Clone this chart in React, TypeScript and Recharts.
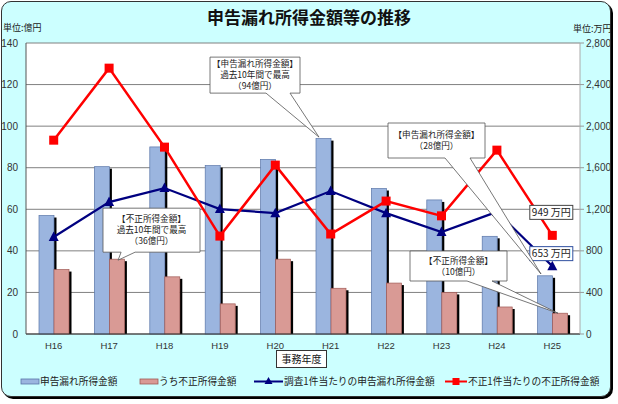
import React from 'react';
import {
  ComposedChart,
  Bar,
  Line,
  XAxis,
  YAxis,
  CartesianGrid,
  ReferenceDot,
  LabelList,
} from 'recharts';

const years = ['H16', 'H17', 'H18', 'H19', 'H20', 'H21', 'H22', 'H23', 'H24', 'H25'];
const undeclared = [57, 80.5, 90, 81, 84, 94, 70, 64.5, 47, 28];
const fraud = [31, 36, 27.5, 14.5, 36, 22, 24.5, 20, 13, 10];
const perCaseUndeclared = [933, 1269, 1404, 1202, 1163, 1375, 1163, 981, 1175, 653];
const perCaseFraud = [1865, 2558, 1798, 942, 1625, 962, 1279, 1137, 1769, 949];
const leftTicks = [0, 20, 40, 60, 80, 100, 120, 140];
const rightTicks = [0, 400, 800, 1200, 1600, 2000, 2400, 2800];

const data = years.map((year, i) => ({
  year,
  undeclared: undeclared[i],
  fraud: fraud[i],
  perU: perCaseUndeclared[i],
  perF: perCaseFraud[i],
}));

const JP = '"Noto Sans CJK JP", "Noto Sans", sans-serif';
const NUM = '"Liberation Sans", Arial, sans-serif';

const BLUE = '#9bb5df';
const BLUE_S = '#5a76a8';
const PINK = '#d99a95';
const PINK_S = '#a05a55';
const NAVY = '#000080';
const RED = '#ff0000';

const shadowBar = (fill: string, stroke: string) => (props: any) => {
  const { x, y, width, height } = props;
  if (!height || height <= 0) return <g />;
  return (
    <g>
      <rect x={x + width} y={y + 2} width={2.5} height={height - 2} fill="#000" />
      <rect x={x} y={y} width={width} height={height} fill={fill} stroke={stroke} strokeWidth={0.7} />
    </g>
  );
};

const TriDot = (props: any) => {
  const { cx, cy, index } = props;
  if (cx == null || cy == null) return <g key={index} />;
  return (
    <polygon
      key={index}
      points={`${cx},${cy - 5.5} ${cx + 5},${cy + 4} ${cx - 5},${cy + 4}`}
      fill={NAVY}
    />
  );
};

const SqDot = (props: any) => {
  const { cx, cy, index } = props;
  if (cx == null || cy == null) return <g key={index} />;
  return <rect key={index} x={cx - 4.5} y={cy - 4.5} width={9} height={9} fill={RED} />;
};

const endLabel = (dy: number, border: string) => (props: any) => {
  const { x, y, index, value } = props;
  if (index !== years.length - 1) return null;
  const cx = x - 1;
  const cy = y + dy;
  return (
    <g>
      <rect x={cx - 21.5} y={cy - 7} width={43} height={14} fill="#fff" stroke={border} strokeWidth={1} />
      <text x={cx} y={cy + 3.5} textAnchor="middle" fontSize={10} fontFamily={JP} fill="#222">
        {`${value} 万円`}
      </text>
    </g>
  );
};

type CalloutCfg = {
  box: [number, number, number, number];
  base: [number, number];
  tip: [number, number];
  lines: string[];
};

const makeCallout = (cfg: CalloutCfg) => (props: any) => {
  const { cx, cy } = props;
  if (cx == null || cy == null) return <g />;
  const [l, t, r, b] = cfg.box.map((v, i) => (i % 2 === 0 ? cx + v : cy + v));
  const b1 = cx + cfg.base[0];
  const b2 = cx + cfg.base[1];
  const tx = cx + cfg.tip[0];
  const ty = cy + cfg.tip[1];
  const d = `M${l},${t} H${r} V${b} H${b2} L${tx},${ty} L${b1},${b} H${l} Z`;
  const mid = (l + r) / 2;
  const n = cfg.lines.length;
  const lh = 11;
  const startY = (t + b) / 2 - ((n - 1) * lh) / 2 + 3;
  return (
    <g>
      <path d={d} fill="#fff" stroke="#555" strokeWidth={0.8} />
      {cfg.lines.map((s, i) => (
        <text key={i} x={mid} y={startY + i * lh} textAnchor="middle" fontSize={8.6} fontFamily={JP} fill="#222">
          {s}
        </text>
      ))}
    </g>
  );
};

const callout1 = makeCallout({
  box: [-120.7, -81.5, -30.7, -45.5],
  base: [-64.7, -40.7],
  tip: [-11.7, -1.5],
  lines: ['【申告漏れ所得金額】', '過去10年間で最高', `（${undeclared[5]}億円）`],
});
const callout2 = makeCallout({
  box: [-164.3, -152.8, -67.3, -117.8],
  base: [-107.3, -82.3],
  tip: [-11.3, -1.8],
  lines: ['【申告漏れ所得金額】', `（${undeclared[9]}億円）`],
});
const callout3 = makeCallout({
  box: [-6.1, -51, 90.9, -7],
  base: [12, 26],
  tip: [9, 1],
  lines: ['【不正所得金額】', '過去10年間で最高', `（${fraud[1]}億円）`],
});
const callout4 = makeCallout({
  box: [-142.3, -62.2, -45.3, -32.2],
  base: [-85.3, -60.3],
  tip: [5.7, 0],
  lines: ['【不正所得金額】', `（${fraud[9]}億円）`],
});

export default function App() {
  return (
    <div style={{ position: 'absolute', left: 0, top: 0, width: 618, height: 404, background: '#fff', overflow: 'hidden' }}>
      <div
        style={{
          position: 'absolute',
          left: 1,
          top: 1,
          width: 610,
          height: 396,
          background: '#ccffff',
          border: '1px solid #333',
          borderRadius: 10,
          boxShadow: '2px 2px 0 #000',
          boxSizing: 'border-box',
        }}
      />
      <div
        style={{
          position: 'absolute',
          left: 0,
          width: 618,
          top: 6,
          textAlign: 'center',
          fontFamily: JP,
          fontSize: 17,
          fontWeight: 600,
          color: '#111',
          lineHeight: '22px',
        }}
      >
        申告漏れ所得金額等の推移
      </div>
      <div style={{ position: 'absolute', left: 3, top: 22, fontFamily: JP, fontSize: 9, lineHeight: '12px', color: '#222' }}>単位:億円</div>
      <div style={{ position: 'absolute', left: 573, top: 23, fontFamily: JP, fontSize: 9, lineHeight: '12px', color: '#222' }}>単位:万円</div>

      <div style={{ position: 'absolute', left: 0, top: 0 }}>
        <ComposedChart
          width={618}
          height={404}
          data={data}
          margin={{ top: 43, right: 0, bottom: 50, left: 0 }}
          barSize={15}
          barGap={0}
        >
          <CartesianGrid vertical={false} stroke="#808080" fill="#fff" yAxisId="left" />
          <XAxis
            dataKey="year"
            height={20}
            tickLine={false}
            axisLine={{ stroke: '#333' }}
            tick={{ fontSize: 9.5, fill: '#333', fontFamily: NUM }}
            interval={0}
          />
          <YAxis
            yAxisId="left"
            width={26}
            domain={[0, 140]}
            ticks={leftTicks}
            tickLine={false}
            axisLine={{ stroke: '#555' }}
            tick={{ fontSize: 10, fill: '#333', fontFamily: NUM }}
            interval={0}
          />
          <YAxis
            yAxisId="right"
            orientation="right"
            width={38}
            domain={[0, 2800]}
            ticks={rightTicks}
            tickSize={4}
            tickLine={{ stroke: '#999' }}
            axisLine={{ stroke: '#aaa' }}
            tick={{ fontSize: 10, fill: '#333', fontFamily: NUM, textAnchor: 'start' }}
            tickFormatter={(v: number) => v.toLocaleString('en-US')}
            interval={0}
          />
          <Bar yAxisId="left" dataKey="undeclared" isAnimationActive={false} shape={shadowBar(BLUE, BLUE_S)} />
          <Bar yAxisId="left" dataKey="fraud" isAnimationActive={false} shape={shadowBar(PINK, PINK_S)} />
          <Line
            yAxisId="right"
            dataKey="perU"
            stroke={NAVY}
            strokeWidth={2.2}
            dot={TriDot}
            activeDot={false}
            isAnimationActive={false}
          >
            <LabelList dataKey="perU" content={endLabel(-12.5, '#3050a0')} />
          </Line>
          <Line
            yAxisId="right"
            dataKey="perF"
            stroke={RED}
            strokeWidth={2.5}
            dot={SqDot}
            activeDot={false}
            isAnimationActive={false}
          >
            <LabelList dataKey="perF" content={endLabel(-23, '#444')} />
          </Line>
          <ReferenceDot yAxisId="left" x={years[5]} y={undeclared[5]} shape={callout1} zIndex={2500} />
          <ReferenceDot yAxisId="left" x={years[9]} y={undeclared[9]} shape={callout2} zIndex={2500} />
          <ReferenceDot yAxisId="left" x={years[1]} y={fraud[1]} shape={callout3} zIndex={2500} />
          <ReferenceDot yAxisId="left" x={years[9]} y={fraud[9]} shape={callout4} zIndex={2500} />
        </ComposedChart>
      </div>

      <div
        style={{
          position: 'absolute',
          left: 276,
          top: 350,
          width: 51,
          height: 18,
          boxSizing: 'border-box',
          background: '#fff',
          border: '1px solid #333',
          fontFamily: JP,
          fontSize: 10,
          lineHeight: '16px',
          textAlign: 'center',
          color: '#111',
        }}
      >
        事務年度
      </div>

      <svg style={{ position: 'absolute', left: 0, top: 0 }} width={618} height={404}>
        <g fontFamily={JP} fontSize={9.7} fill="#222">
          <rect x={21} y={379} width={18} height={5} fill={BLUE} stroke={BLUE_S} strokeWidth={0.8} />
          <text x={40} y={385}>申告漏れ所得金額</text>
          <rect x={140} y={379} width={18} height={5} fill={PINK} stroke={PINK_S} strokeWidth={0.8} />
          <text x={159} y={385}>うち不正所得金額</text>
          <line x1={254} y1={381.5} x2={283} y2={381.5} stroke={NAVY} strokeWidth={2} />
          <polygon points="268.5,377 272.5,384 264.5,384" fill={NAVY} />
          <text x={284} y={385}>調査1件当たりの申告漏れ所得金額</text>
          <line x1={445} y1={381.5} x2={467} y2={381.5} stroke={RED} strokeWidth={2} />
          <rect x={452.5} y={378} width={7} height={7} fill={RED} />
          <text x={468} y={385}>不正1件当たりの不正所得金額</text>
        </g>
      </svg>
    </div>
  );
}
